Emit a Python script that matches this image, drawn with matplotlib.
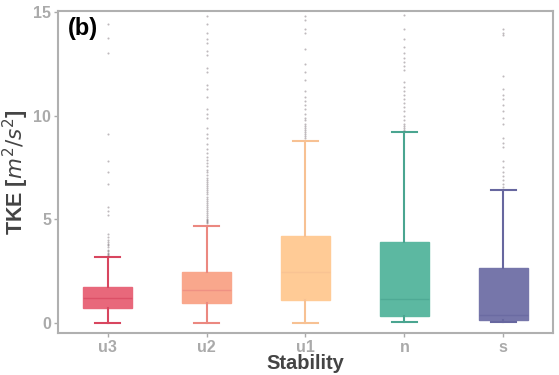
import numpy as np
import matplotlib.pyplot as plt

plt.rcParams['font.family'] = ['Liberation Sans', 'DejaVu Sans']

categories = ['u3', 'u2', 'u1', 'n', 's']
whislo = [0.0, 0.0, 0.0, 0.03, 0.03]
q1 = [0.72, 0.96, 1.1, 0.35, 0.15]
med = [1.2, 1.6, 2.45, 1.15, 0.38]
q3 = [1.73, 2.45, 4.2, 3.9, 2.65]
whishi = [3.2, 4.7, 8.8, 9.2, 6.4]

fliers_u3 = [14.4, 13.75, 13.0, 9.1, 7.8, 7.3, 6.7, 5.6, 5.4, 5.2, 4.3, 4.15, 4.0,
             3.9, 3.8, 3.75, 3.65, 3.5, 3.45, 3.4, 3.35, 3.3]
fliers_u2 = [14.8, 14.4, 14.0, 13.7, 13.5, 13.1, 12.9, 12.3, 12.1, 11.5, 11.3, 10.9,
             10.3, 10.1, 9.9, 9.4, 9.1, 8.9, 8.65, 8.4, 8.2, 8.0, 7.85, 7.7, 7.55,
             7.4, 7.3, 7.15, 7.0, 6.9, 6.8, 6.7, 6.6, 6.5, 6.4, 6.3, 6.2, 6.1, 6.0,
             5.9, 5.8, 5.7, 5.6, 5.5, 5.4, 5.3, 5.2, 5.1, 5.0, 4.95, 4.9, 4.85, 4.8]
fliers_u1 = [14.8, 14.6, 14.2, 14.0, 13.2, 12.5, 12.1, 11.7, 11.2, 10.9, 10.7,
             10.5, 10.3, 10.1, 9.9, 9.8, 9.6, 9.5, 9.4, 9.3, 9.2, 9.1, 9.0, 8.9]
fliers_n = [14.85, 14.2, 13.7, 13.3, 13.0, 12.8, 12.6, 12.4, 12.2, 11.6, 11.4,
            11.2, 11.0, 10.8, 10.6, 10.4, 10.2, 10.0, 9.8, 9.6, 9.5, 9.4, 9.3]
fliers_s = [14.2, 14.0, 13.9, 11.9, 11.3, 11.0, 10.8, 10.5, 10.2, 9.9, 9.6, 8.9,
            8.7, 8.5, 7.8, 7.5, 7.3, 7.1, 6.9, 6.7, 6.55]
fliers = [fliers_u3, fliers_u2, fliers_u1, fliers_n, fliers_s]

face_colors = ['#E8687B', '#F9A78C', '#FFCB96', '#5CB8A1', '#7676AA']
line_colors = ['#D8465F', '#EB8880', '#F7C193', '#4AA590', '#67679F']

stats = []
for i in range(len(categories)):
    stats.append(dict(label=categories[i], whislo=whislo[i], q1=q1[i], med=med[i],
                      q3=q3[i], whishi=whishi[i], fliers=fliers[i]))

fig = plt.figure(figsize=(5.59, 3.75), dpi=100)
ax = fig.add_axes([0.104, 0.112, 0.885, 0.859])

for i, s in enumerate(stats):
    ax.bxp([s], positions=[i], widths=0.5, patch_artist=True, capwidths=0.25,
           boxprops=dict(facecolor=face_colors[i], edgecolor=face_colors[i], linewidth=1),
           medianprops=dict(color=line_colors[i], linewidth=1, alpha=0.7),
           whiskerprops=dict(color=line_colors[i], linewidth=1.5),
           capprops=dict(color=line_colors[i], linewidth=1.5),
           flierprops=dict(marker='o', markersize=1.5, markerfacecolor='#4a3a44',
                           markeredgecolor='none', alpha=0.35))

ax.set_xlim(-0.5, 4.5)
ax.set_ylim(-0.48, 15.05)
ax.set_yticks([0, 5, 10, 15])
ax.set_xticks(range(len(categories)))
ax.set_xticklabels(categories)
for lab in ax.get_xticklabels() + ax.get_yticklabels():
    lab.set_fontweight('bold')
    lab.set_color('#5a5a5a')
    lab.set_fontsize(11.5)
ax.tick_params(colors='#aaaaaa', length=3, width=1, pad=2)
for sp in ax.spines.values():
    sp.set_color('#b0b0b0')
    sp.set_linewidth(1.5)

ax.set_ylabel(r'TKE [$m^2/s^2$]', fontsize=15.5, fontweight='bold', color='#444444')
ax.yaxis.set_label_coords(-0.054, 0.5)
ax.set_xlabel('Stability', fontsize=14.5, fontweight='bold', color='#444444')
ax.xaxis.set_label_coords(0.5, -0.064)
ax.text(0.02, 0.98, '(b)', transform=ax.transAxes, fontsize=17, fontweight='bold',
        va='top', ha='left', color='black')

fig.savefig('out.png', dpi=100)
